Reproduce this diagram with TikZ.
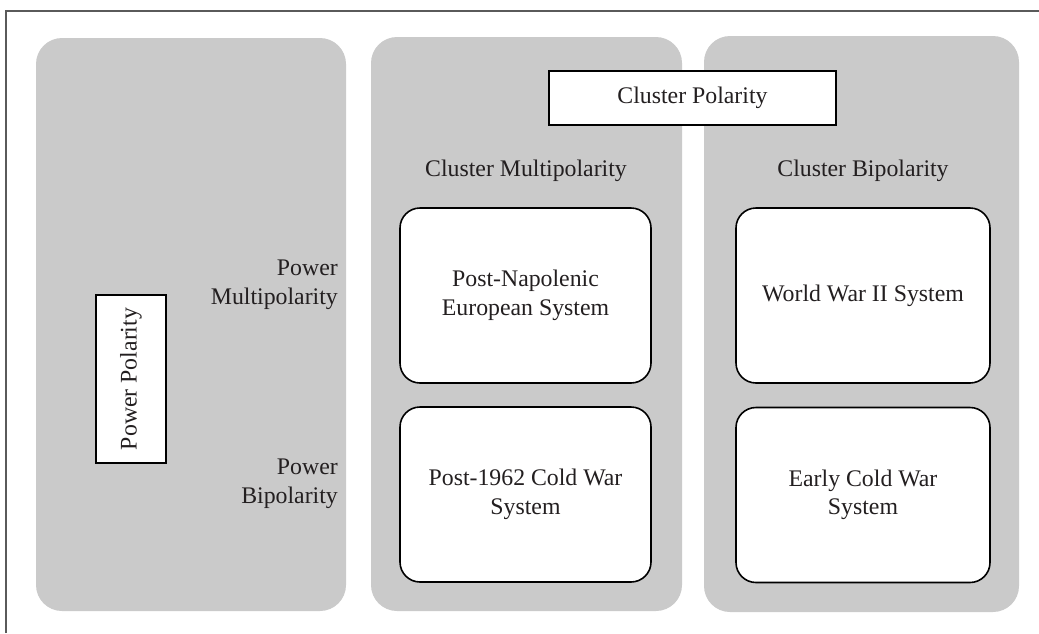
\documentclass[tikz,border=0pt]{standalone}
\usepackage{fontspec}
\setmainfont{Liberation Serif}
\definecolor{panelgray}{HTML}{CACACA}
\definecolor{txt}{HTML}{231F20}
\definecolor{framegray}{HTML}{5A5A5A}
\begin{document}
\begin{tikzpicture}[x=1pt,y=-1pt,
  font=\fontsize{23.8}{28.6}\selectfont,
  every node/.style={text=txt},
  panel/.style={fill=panelgray, rounded corners=26pt},
  sysbox/.style={draw=black, line width=1.6pt, fill=white, rounded corners=20pt,
    minimum width=251pt, minimum height=175pt, align=center, inner sep=0pt},
  titlebox/.style={draw=black, line width=1.8pt, fill=white, inner sep=0pt},
  lbl/.style={inner sep=0pt, align=center}
]
\useasboundingbox (0,0) rectangle (1039,633);
% partial frame
\draw[framegray, line width=2pt] (6,633) -- (6,11) -- (1039,11);
% panels
\path[panel] (36,38) rectangle (346,611);
\path[panel] (371,37) rectangle (682,611);
\path[panel] (704,36) rectangle (1019,612);
% cluster polarity box
\node[titlebox, minimum width=287pt, minimum height=54pt] (cp) at (692.5,98) {Cluster Polarity};
% power polarity box
\node[titlebox, minimum width=168pt, minimum height=70pt, rotate=90] (pp) at (131,379) {Power Polarity};
% column headings
\node[lbl] (cm) at (526,171) {Cluster Multipolarity};
\node[lbl] (cb) at (863,171) {Cluster Bipolarity};
% row headings
\node[inner sep=0pt, align=right, anchor=east] (pm) at (338,285) {Power\\Multipolarity};
\node[inner sep=0pt, align=right, anchor=east] (pb) at (338,484) {Power\\Bipolarity};
% system boxes
\node[sysbox] (a) at (525.5,295.5) {Post-Napolenic\\European System};
\node[sysbox, minimum width=254pt] (b) at (863,295.5) {World War II System};
\node[sysbox] (c) at (525.5,494.5) {Post-1962 Cold War\\System};
\node[sysbox, minimum width=254pt] (d) at (863,495) {Early Cold War\\System};
\end{tikzpicture}
\end{document}
